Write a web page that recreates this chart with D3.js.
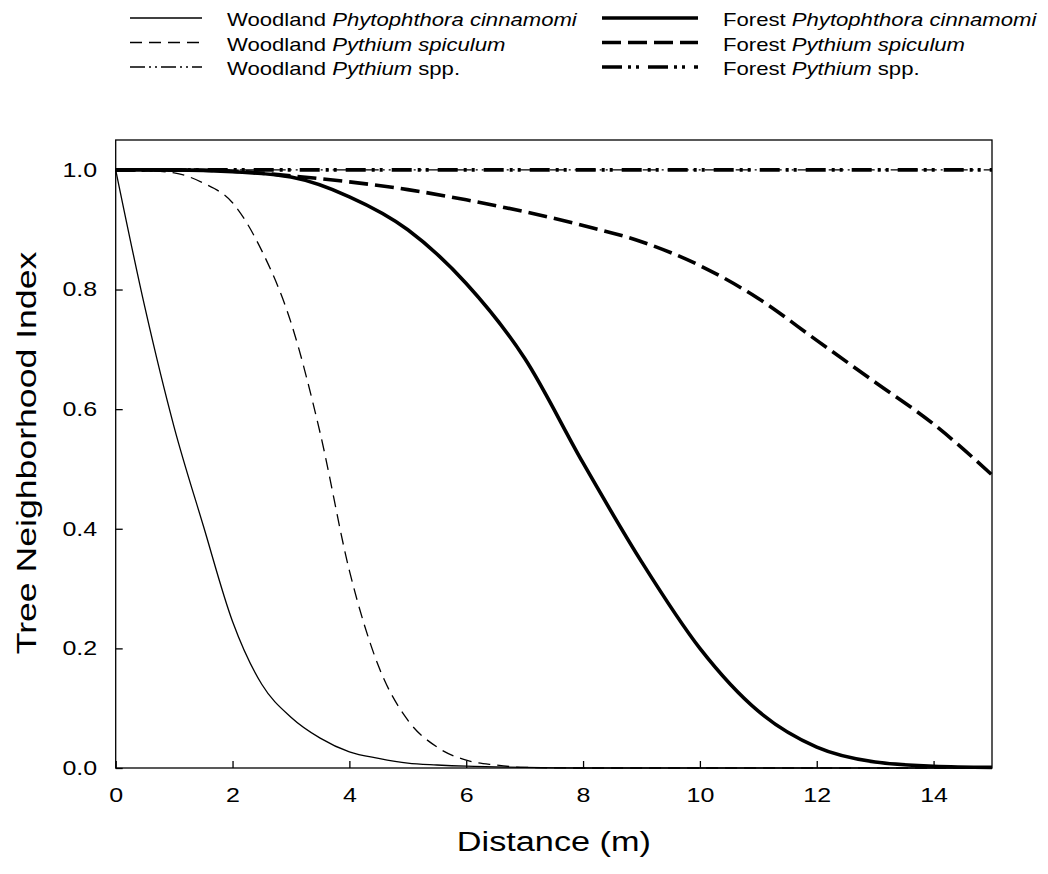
<!DOCTYPE html>
<html>
<head>
<meta charset="utf-8">
<script src="https://cdn.jsdelivr.net/npm/d3@7"></script>
<style>
body { margin: 0; background: #fff; }
text { font-family: "Liberation Sans", Arial, sans-serif; fill: #000; }
</style>
</head>
<body>
<svg id="chart" width="1048" height="874"></svg>
<script>
// distances (m)
const distWood = [0, 0.5, 1, 1.5, 2, 2.5, 3, 3.5, 4, 4.5, 5, 5.5, 6, 6.5, 7, 8, 9, 10, 11, 12, 13, 14, 15];
const woodPhyto = [1.0, 0.77, 0.57, 0.405, 0.245, 0.14, 0.085, 0.05, 0.027, 0.016, 0.008, 0.005, 0.003, 0.002, 0.001, 0, 0, 0, 0, 0, 0, 0, 0];
const woodSpic = [1.0, 0.999, 0.995, 0.978, 0.945, 0.865, 0.745, 0.56, 0.33, 0.17, 0.08, 0.035, 0.013, 0.005, 0.001, 0, 0, 0, 0, 0, 0, 0, 0];
const woodSpp = [1, 1, 1, 1, 1, 1, 1, 1, 1, 1, 1, 1, 1, 1, 1, 1, 1, 1, 1, 1, 1, 1, 1];

const distForest = [0, 1, 2, 3, 4, 5, 6, 7, 8, 9, 10, 11, 12, 13, 14, 15];
const forestPhyto = [1.0, 1.0, 0.997, 0.988, 0.955, 0.90, 0.81, 0.685, 0.51, 0.345, 0.20, 0.095, 0.035, 0.01, 0.003, 0.001];
const forestSpic = [1.0, 1.0, 0.998, 0.99, 0.98, 0.967, 0.95, 0.93, 0.907, 0.88, 0.84, 0.785, 0.715, 0.645, 0.575, 0.49];
const forestSpp = [1, 1, 1, 1, 1, 1, 1, 1, 1, 1, 1, 1, 1, 1, 1, 1];

const xTicks = [0, 2, 4, 6, 8, 10, 12, 14];
const yTicks = [0, 0.2, 0.4, 0.6, 0.8, 1.0];

const woodLabels = [["Woodland ", "Phytophthora cinnamomi", ""], ["Woodland ", "Pythium spiculum", ""], ["Woodland ", "Pythium", " spp."]];
const forestLabels = [["Forest ", "Phytophthora cinnamomi", ""], ["Forest ", "Pythium spiculum", ""], ["Forest ", "Pythium", " spp."]];

// text in the original is drawn wide
const stretch = 1.25;

const svg = d3.select("#chart");
const plotL = 115.7, plotR = 992, plotT = 140, plotB = 768;

const x = d3.scaleLinear().domain([0, 15]).range([plotL, plotR]);
const y = d3.scaleLinear().domain([0, 1.05]).range([plotB, plotT]);

const thin = 1.3, thick = 3.6;
const series = [
  { xs: distWood, ys: woodPhyto, w: thin, dash: null, label: woodLabels[0] },
  { xs: distWood, ys: woodSpic, w: thin, dash: "12,7", label: woodLabels[1] },
  { xs: distWood, ys: woodSpp, w: thin, dash: "15,4,2,4,2,4", label: woodLabels[2] },
  { xs: distForest, ys: forestPhyto, w: thick, dash: null, label: forestLabels[0] },
  { xs: distForest, ys: forestSpic, w: thick, dash: "19,7", label: forestLabels[1] },
  { xs: distForest, ys: forestSpp, w: thick, dash: "20,6,3,5,3,9", label: forestLabels[2] }
];

const line = d3.line().x(d => x(d[0])).y(d => y(d[1])).curve(d3.curveMonotoneX);

// frame
svg.append("rect")
  .attr("x", plotL).attr("y", plotT)
  .attr("width", plotR - plotL).attr("height", plotB - plotT)
  .attr("fill", "none").attr("stroke", "#000").attr("stroke-width", 1.3);

// curves
series.forEach(s => {
  svg.append("path")
    .datum(d3.zip(s.xs, s.ys))
    .attr("d", line)
    .attr("fill", "none")
    .attr("stroke", "#000")
    .attr("stroke-width", s.w)
    .attr("stroke-dasharray", s.dash);
});

// axes, ticks point inwards
const xAxis = svg.append("g")
  .attr("transform", `translate(0,${plotB})`)
  .call(d3.axisBottom(x).tickValues(xTicks).tickSize(-7).tickSizeOuter(0).tickPadding(20).tickFormat(d3.format("d")));
const yAxis = svg.append("g")
  .attr("transform", `translate(${plotL},0)`)
  .call(d3.axisLeft(y).tickValues(yTicks).tickSize(-7).tickSizeOuter(0).tickPadding(18.5).tickFormat(d3.format(".1f")));

[xAxis, yAxis].forEach(a => {
  a.select(".domain").remove();
  a.selectAll(".tick line").attr("stroke", "#000").attr("stroke-width", 1.3);
  a.selectAll("text").attr("font-size", 20).attr("font-family", null);
});
xAxis.selectAll("text").attr("transform", `scale(${stretch},1)`);
yAxis.selectAll("text").attr("x", 0).attr("transform", `translate(-18.5,0) scale(${stretch},1)`);

// axis titles
svg.append("text")
  .attr("transform", `translate(${(plotL + plotR) / 2},851) scale(${stretch},1)`)
  .attr("text-anchor", "middle")
  .attr("font-size", 27.4)
  .text("Distance (m)");

svg.append("text")
  .attr("transform", `translate(36,453) rotate(-90) scale(${stretch},1)`)
  .attr("text-anchor", "middle")
  .attr("font-size", 28.5)
  .text("Tree Neighborhood Index");

// legend, two columns
const rowY = [18, 42.5, 67];
const cols = [
  { x0: 130, x1: 202, tx: 227, items: series.slice(0, 3) },
  { x0: 602, x1: 698, tx: 723, items: series.slice(3) }
];
cols.forEach(c => {
  c.items.forEach((s, i) => {
    svg.append("line")
      .attr("x1", c.x0).attr("x2", c.x1)
      .attr("y1", rowY[i]).attr("y2", rowY[i])
      .attr("stroke", "#000")
      .attr("stroke-width", s.w)
      .attr("stroke-dasharray", s.dash);
    const t = svg.append("text")
      .attr("transform", `translate(${c.tx},${rowY[i] + 8.4}) scale(${stretch},1)`)
      .attr("font-size", 17.7);
    t.append("tspan").text(s.label[0]);
    t.append("tspan").attr("font-style", "italic").text(s.label[1]);
    if (s.label[2]) t.append("tspan").text(s.label[2]);
  });
});
</script>
</body>
</html>
